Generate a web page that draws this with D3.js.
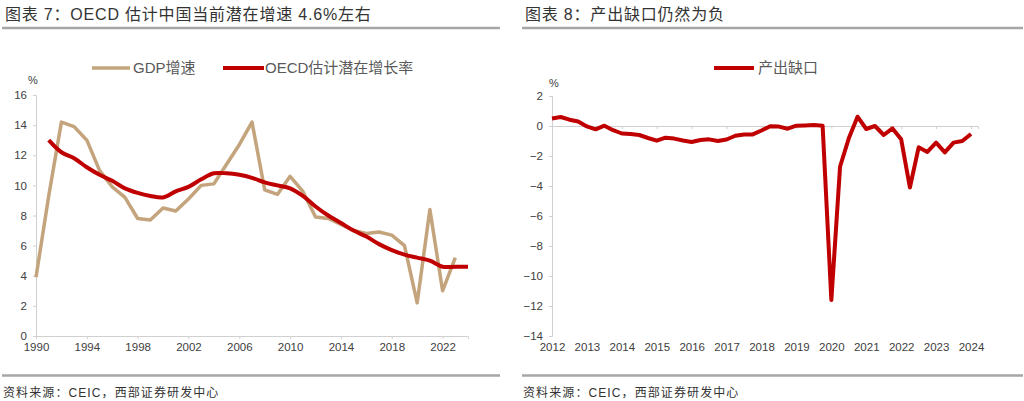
<!DOCTYPE html>
<html><head><meta charset="utf-8">
<script src="https://cdn.jsdelivr.net/npm/d3@7"></script>
<style>
html,body{margin:0;padding:0;background:#fff;}
svg{display:block;}
text{font-family:"Liberation Sans",Arial,sans-serif;}
.cjk{font-family:"Liberation Sans","Noto Sans CJK SC",sans-serif;}
</style></head>
<body>
<script>
// ---- Data: chart 7 ----
const gdpYears = d3.range(1990, 2024);
const gdpGrowth = [3.9, 9.3, 14.2, 13.9, 13.0, 11.0, 9.9, 9.2, 7.8, 7.7, 8.5, 8.3, 9.1, 10.0, 10.1, 11.4, 12.7, 14.2, 9.7, 9.4, 10.6, 9.6, 7.9, 7.8, 7.4, 7.0, 6.8, 6.9, 6.7, 6.0, 2.2, 8.4, 3.0, 5.2];
const oecdYears = d3.range(1991, 2025);
const oecdPotential = [13.0, 12.2, 11.8, 11.2, 10.7, 10.3, 9.8, 9.5, 9.3, 9.2, 9.6, 9.9, 10.4, 10.8, 10.8, 10.7, 10.5, 10.2, 10.0, 9.8, 9.3, 8.6, 8.0, 7.5, 7.0, 6.6, 6.1, 5.7, 5.4, 5.2, 5.0, 4.6, 4.6, 4.6];
const leftXTicks = [1990, 1994, 1998, 2002, 2006, 2010, 2014, 2018, 2022];
const leftYTicks = [0, 2, 4, 6, 8, 10, 12, 14, 16];

// ---- Data: chart 8 (quarterly, 2012Q1 - 2024Q1) ----
const gapQuarters = d3.range(0, 49);
const outputGap = [0.5, 0.6, 0.42, 0.3, -0.03, -0.22, 0.02, -0.28, -0.5, -0.53, -0.6, -0.8, -0.98, -0.78, -0.84, -0.97, -1.07, -0.93, -0.89, -1.0, -0.9, -0.65, -0.56, -0.56, -0.3, -0.02, -0.04, -0.18, 0.02, 0.04, 0.07, 0.02, -11.6, -2.7, -0.82, 0.62, -0.2, 0.0, -0.6, -0.16, -0.89, -4.1, -1.42, -1.73, -1.11, -1.76, -1.11, -1.0, -0.53];
const rightXTickLabels = ["2012","2013","2014","2015","2016","2017","2018","2019","2020","2021","2022","2023","2024"];
const rightYTicks = [2, 0, -2, -4, -6, -8, -10, -12, -14];

const W = 1024, H = 401;
const svg = d3.select("body").append("svg").attr("width", W).attr("height", H);

const textCol = "#404040";
const gridCol = "#d0d0d0";

function header(x0, x1, title) {
  svg.append("text").attr("class","cjk").attr("x", x0 + 3).attr("y", 20)
    .attr("font-size", 16).attr("fill", "#333").attr("letter-spacing", 0.8).text(title);
  svg.append("line").attr("x1", x0).attr("x2", x1).attr("y1", 28).attr("y2", 28)
    .attr("stroke", "#a6a6a6").attr("stroke-width", 2.5);
  svg.append("line").attr("x1", x0).attr("x2", x1).attr("y1", 375.5).attr("y2", 375.5)
    .attr("stroke", "#a6a6a6").attr("stroke-width", 2.5);
  svg.append("text").attr("class","cjk").attr("x", x0 + 1).attr("y", 397)
    .attr("font-size", 12).attr("letter-spacing", 1.1).attr("fill", "#333").text("资料来源：CEIC，西部证券研发中心");
}
header(2, 500, "图表 7：OECD 估计中国当前潜在增速 4.6%左右");
header(522, 1023, "图表 8：产出缺口仍然为负");

// ---- Left chart ----
const xL = d3.scaleLinear().domain([1990, 2024]).range([36, 468]);
const yL = d3.scaleLinear().domain([0, 16]).range([336, 95]);

const gL = svg.append("g");
const axL = gL.append("g").attr("transform", "translate(36,0)")
  .call(d3.axisLeft(yL).tickValues(leftYTicks).tickSize(3).tickPadding(6).tickFormat(d3.format("d")));
const axB = gL.append("g").attr("transform", "translate(0,336)")
  .call(d3.axisBottom(xL).tickValues(leftXTicks).tickSize(3).tickPadding(4).tickFormat(d3.format("d")));
[axL, axB].forEach(a => {
  a.select(".domain").attr("stroke", gridCol);
  a.selectAll(".tick line").attr("stroke", gridCol);
  a.selectAll(".tick text").attr("fill", textCol).attr("font-size", 11.5)
    .attr("font-family", "Liberation Sans, Arial, sans-serif");
});
gL.append("text").attr("x", 28).attr("y", 84).attr("font-size", 11).attr("fill", textCol).text("%");

const lineGdp = d3.line().x((d, i) => xL(gdpYears[i])).y(d => yL(d));
gL.append("path").datum(gdpGrowth).attr("d", lineGdp)
  .attr("fill", "none").attr("stroke", "#C4A47C").attr("stroke-width", 3.5).attr("stroke-linejoin", "round");
const lineOecd = d3.line().x((d, i) => xL(oecdYears[i])).y(d => yL(d)).curve(d3.curveCatmullRom.alpha(0.5));
gL.append("path").datum(oecdPotential).attr("d", lineOecd)
  .attr("fill", "none").attr("stroke", "#C00000").attr("stroke-width", 4).attr("stroke-linejoin", "round");

// legend left
const lgY = 68;
gL.append("line").attr("x1", 92).attr("x2", 130).attr("y1", lgY).attr("y2", lgY)
  .attr("stroke", "#C4A47C").attr("stroke-width", 3.5);
gL.append("text").attr("class","cjk").attr("x", 133).attr("y", lgY + 5).attr("font-size", 15).attr("fill", "#595959").text("GDP增速");
gL.append("line").attr("x1", 223).attr("x2", 264).attr("y1", lgY).attr("y2", lgY)
  .attr("stroke", "#C00000").attr("stroke-width", 4);
gL.append("text").attr("class","cjk").attr("x", 265).attr("y", lgY + 5).attr("font-size", 15).attr("fill", "#595959").text("OECD估计潜在增长率");

// ---- Right chart ----
const xR = d3.scaleLinear().domain([0, 48.8]).range([552, 978]);
const yR = d3.scaleLinear().domain([-14, 2]).range([336, 96]);
const gR = svg.append("g");
const axRL = gR.append("g").attr("transform", "translate(552,0)")
  .call(d3.axisLeft(yR).tickValues(rightYTicks).tickSize(3).tickPadding(6).tickFormat(d3.format("d")));
const yearIdx = rightXTickLabels.map((d, i) => i * 4);
const axR0 = gR.append("g").attr("transform", `translate(0,${yR(0)})`)
  .call(d3.axisBottom(xR).tickValues(yearIdx).tickSize(3).tickFormat(""));
const axRB = gR.append("g").attr("transform", "translate(0,336)")
  .call(d3.axisBottom(xR).tickValues(yearIdx).tickSize(0).tickPadding(7).tickFormat((d, i) => rightXTickLabels[i]));
axRB.select(".domain").remove();
[axRL, axR0, axRB].forEach(a => {
  a.select(".domain").attr("stroke", gridCol);
  a.selectAll(".tick line").attr("stroke", gridCol);
  a.selectAll(".tick text").attr("fill", textCol).attr("font-size", 11.5)
    .attr("font-family", "Liberation Sans, Arial, sans-serif");
});
gR.append("text").attr("x", 549).attr("y", 87).attr("font-size", 11).attr("fill", textCol).text("%");

const lineGap = d3.line().x((d, i) => xR(gapQuarters[i])).y(d => yR(d));
gR.append("path").datum(outputGap).attr("d", lineGap)
  .attr("fill", "none").attr("stroke", "#C00000").attr("stroke-width", 4).attr("stroke-linejoin", "round");

gR.append("line").attr("x1", 714).attr("x2", 754).attr("y1", lgY).attr("y2", lgY)
  .attr("stroke", "#C00000").attr("stroke-width", 4);
gR.append("text").attr("class","cjk").attr("x", 758).attr("y", lgY + 5).attr("font-size", 15).attr("fill", "#595959").text("产出缺口");
</script>
</body></html>
